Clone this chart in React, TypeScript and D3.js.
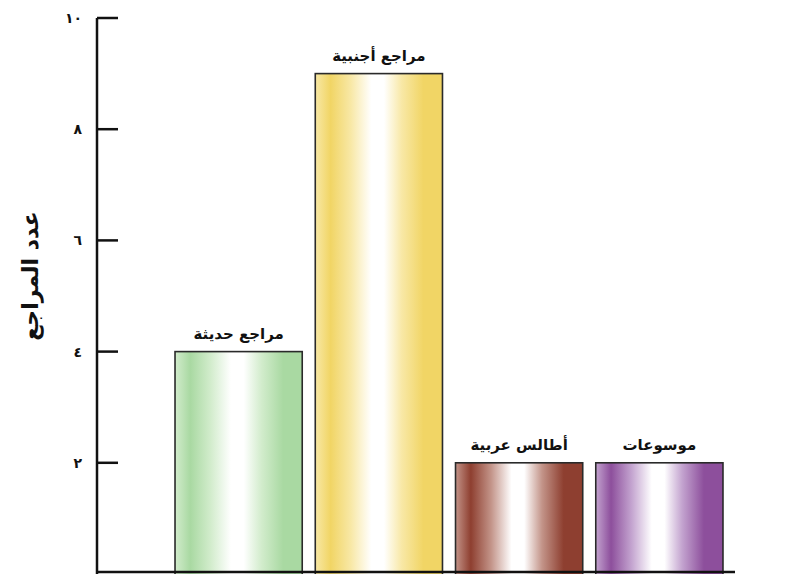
import React from "react";
import * as d3 from "d3";

const categories = ["مراجع حديثة", "مراجع أجنبية", "أطالس عربية", "موسوعات"];
const values = [4, 9, 2, 2];
const tickValues = [2, 4, 6, 8, 10];
const tickLabels = ["٢", "٤", "٦", "٨", "١٠"];
const yTitle = "عدد المراجع";
const edgeColors = ["#a9d9a2", "#f1d565", "#8e3f30", "#8d4f9c"];
const midColors = ["#d2eccc", "#f8e8a6", "#c39489", "#c3a3cf"];

const W = 797, H = 574;

export default function App() {
  const y = d3.scaleLinear().domain([0, 10]).range([574, 18]);
  const x = d3
    .scaleBand<string>()
    .domain(categories)
    .range([168.5, 729.5])
    .paddingInner(0.093)
    .paddingOuter(0.0465);
  const axisX = 97;
  const font = "'DejaVu Sans', sans-serif";
  return (
    <svg
      width={W}
      height={H}
      style={{ position: "absolute", left: 0, top: 0, background: "#fff" }}
    >
      <defs>
        {categories.map((c, i) => (
          <linearGradient key={c} id={`g${i}`} x1="0" x2="1" y1="0" y2="0">
            <stop offset="0%" stopColor={midColors[i]} />
            <stop offset="12%" stopColor={edgeColors[i]} />
            <stop offset="28%" stopColor={midColors[i]} />
            <stop offset="44%" stopColor="#ffffff" />
            <stop offset="54%" stopColor="#ffffff" />
            <stop offset="68%" stopColor={midColors[i]} />
            <stop offset="85%" stopColor={edgeColors[i]} />
            <stop offset="100%" stopColor={edgeColors[i]} />
          </linearGradient>
        ))}
      </defs>
      {categories.map((c, i) => (
        <g key={c}>
          <rect
            x={x(c)!}
            y={y(values[i])}
            width={x.bandwidth()}
            height={y(0) - y(values[i]) + 4}
            fill={`url(#g${i})`}
            stroke="#2a2a2a"
            strokeWidth={1.6}
          />
          <text
            x={x(c)! + x.bandwidth() / 2}
            y={y(values[i]) - 13}
            textAnchor="middle"
            direction="rtl"
            fontFamily={font}
            fontWeight="bold"
            fontSize={15}
            fill="#111"
          >
            {c}
          </text>
        </g>
      ))}
      <line x1={axisX} x2={axisX} y1={y(10)} y2={H} stroke="#111" strokeWidth={2.5} />
      <line x1={axisX} x2={735} y1={572} y2={572} stroke="#111" strokeWidth={2.5} />
      {tickValues.map((t, i) => (
        <g key={t}>
          <line x1={axisX} x2={118} y1={y(t)} y2={y(t)} stroke="#111" strokeWidth={2.5} />
          <text
            x={82}
            y={y(t)}
            dy="0.35em"
            textAnchor="end"
            fontFamily={font}
            fontWeight="bold"
            fontSize={14}
            fill="#111"
          >
            {tickLabels[i]}
          </text>
        </g>
      ))}
      <text
        transform={`translate(30, ${276}) rotate(-90)`}
        textAnchor="middle"
        dy="0.35em"
        direction="rtl"
        fontFamily={font}
        fontWeight="bold"
        fontSize={22}
        fill="#111"
      >
        {yTitle}
      </text>
    </svg>
  );
}
